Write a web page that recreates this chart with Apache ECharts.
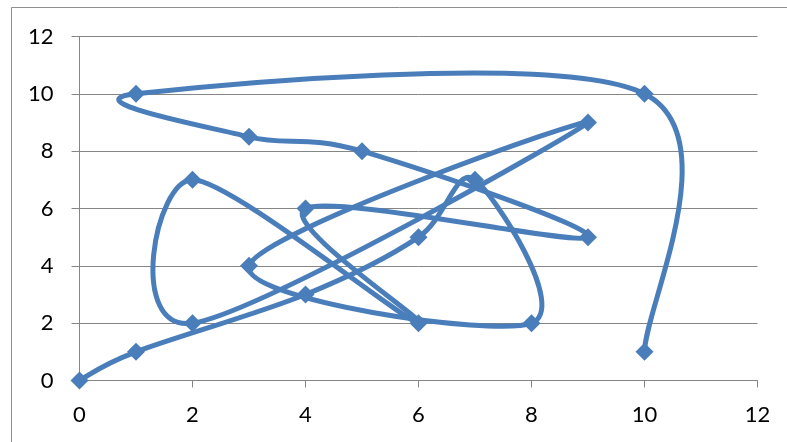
<!DOCTYPE html>
<html>
<head>
<meta charset="utf-8">
<script src="https://cdn.jsdelivr.net/npm/echarts@6/dist/echarts.min.js"></script>
<style>
  html, body { margin: 0; padding: 0; background: #fff; }
  #chart { width: 787px; height: 442px; }
</style>
</head>
<body>
<div id="chart"></div>
<script>
// Points of the series, in the order the curve visits them
const xValues = [0, 1, 4, 6, 7, 8, 3, 9, 2, 2, 6, 4, 9, 5, 3, 1, 10, 10];
const yValues = [0, 1, 3, 5, 7, 2, 4, 9, 2, 7, 2, 6, 5, 8, 8.5, 10, 10, 1];

// Axis ticks
const xTicks = [0, 2, 4, 6, 8, 10, 12];
const yTicks = [0, 2, 4, 6, 8, 10, 12];

const BLUE = '#4a7ebb';
const AXIS_GREY = '#868686';
const FONT = 'Lato, "Open Sans", sans-serif';
// Catmull-Rom style tension used to build the Bezier control points
const TENSION = 1 / 6;

const points = xValues.map((x, i) => [x, yValues[i]]);
// one item per curve segment (point i -> point i + 1)
const segments = points.slice(0, -1).map(p => [p[0], p[1]]);

function renderSegment(params, api) {
  const i = params.dataIndex;
  const n = points.length;
  const at = j => api.coord(points[Math.max(0, Math.min(n - 1, j))]);
  const p0 = at(i - 1), p1 = at(i), p2 = at(i + 1), p3 = at(i + 2);
  return {
    type: 'bezierCurve',
    shape: {
      x1: p1[0], y1: p1[1],
      x2: p2[0], y2: p2[1],
      cpx1: p1[0] + (p2[0] - p0[0]) * TENSION,
      cpy1: p1[1] + (p2[1] - p0[1]) * TENSION,
      cpx2: p2[0] - (p3[0] - p1[0]) * TENSION,
      cpy2: p2[1] - (p3[1] - p1[1]) * TENSION
    },
    style: { stroke: BLUE, lineWidth: 5, fill: 'none', lineCap: 'round', lineJoin: 'round' }
  };
}

const chart = echarts.init(document.getElementById('chart'), null, { renderer: 'canvas' });

const axisCommon = {
  type: 'value',
  axisLine: { show: true, lineStyle: { color: AXIS_GREY, width: 1 } },
  axisTick: { show: true, inside: false, lineStyle: { color: AXIS_GREY, width: 1 } },
  axisLabel: { color: '#000', fontFamily: FONT, fontSize: 22 }
};

chart.setOption({
  animation: false,
  backgroundColor: '#fff',
  graphic: [{
    type: 'rect',
    shape: { x: 11.5, y: 7.5, width: 800, height: 500 },
    style: { fill: 'none', stroke: '#8e8e8e', lineWidth: 1 },
    silent: true
  }],
  grid: { left: 79.5, right: 29.5, top: 36.5, bottom: 61.5, containLabel: false },
  xAxis: Object.assign({}, axisCommon, {
    min: xTicks[0],
    max: xTicks[xTicks.length - 1],
    interval: xTicks[1] - xTicks[0],
    axisTick: Object.assign({}, axisCommon.axisTick, { length: 7 }),
    axisLabel: Object.assign({}, axisCommon.axisLabel, { margin: 23 }),
    splitLine: { show: false }
  }),
  yAxis: Object.assign({}, axisCommon, {
    min: yTicks[0],
    max: yTicks[yTicks.length - 1],
    interval: yTicks[1] - yTicks[0],
    axisTick: Object.assign({}, axisCommon.axisTick, { length: 8 }),
    axisLabel: Object.assign({}, axisCommon.axisLabel, { margin: 26 }),
    splitLine: { show: true, lineStyle: { color: AXIS_GREY, width: 1 } }
  }),
  series: [
    {
      type: 'custom',
      coordinateSystem: 'cartesian2d',
      renderItem: renderSegment,
      encode: { x: 0, y: 1 },
      data: segments,
      clip: false,
      z: 2
    },
    {
      type: 'scatter',
      data: points,
      symbol: 'diamond',
      symbolSize: 18,
      itemStyle: { color: BLUE, opacity: 1 },
      z: 3
    }
  ]
});
</script>
</body>
</html>
